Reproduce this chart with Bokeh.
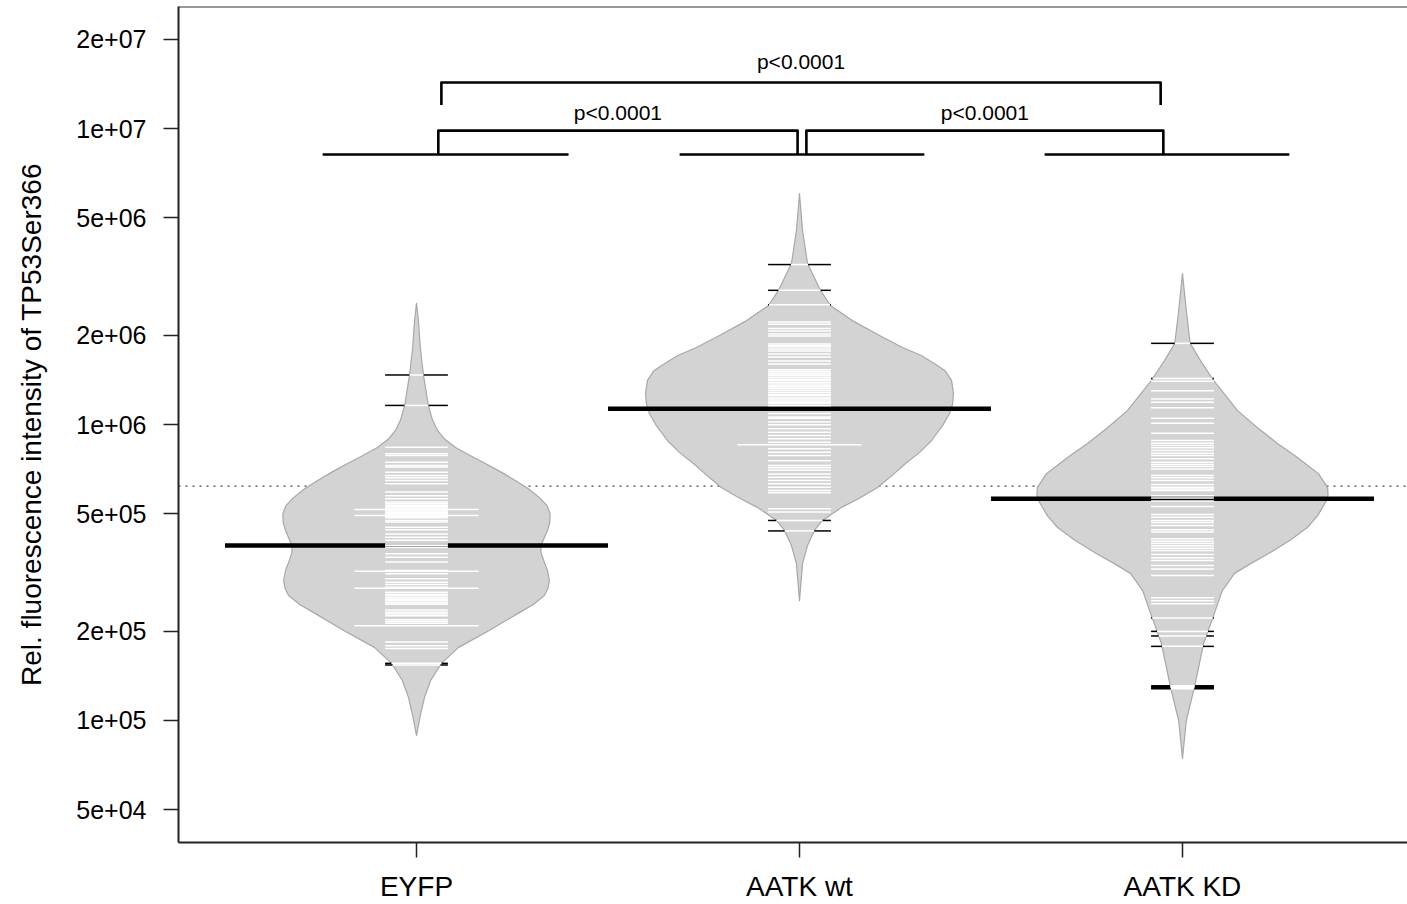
import numpy as np
from bokeh.plotting import figure
from bokeh.models import FixedTicker, Span
from bokeh.core.properties import value
from bokeh.embed import file_html
from bokeh.resources import INLINE

# ---------------- data ----------------
groups = ["EYFP", "AATK wt", "AATK KD"]
group_pos = [1, 2, 3]

# one bean line per observation
eyfp_obs = [1.47e6, 1.16e6, 8.38e5, 7.96e5, 7.85e5, 7.46e5, 7.27e5, 7.18e5, 6.90e5, 6.73e5,
            6.61e5, 6.47e5, 6.31e5, 5.91e5, 5.75e5, 5.61e5, 5.47e5, 5.40e5, 5.34e5, 5.28e5,
            5.22e5, 5.16e5, 5.10e5, 5.05e5, 5.00e5, 4.95e5, 4.89e5, 4.84e5, 4.74e5, 4.68e5,
            4.50e5, 4.41e5, 4.27e5, 4.16e5, 4.06e5, 3.95e5, 3.90e5, 3.85e5, 3.66e5, 3.56e5,
            3.43e5, 3.21e5, 3.13e5, 3.01e5, 2.93e5, 2.88e5, 2.82e5, 2.71e5, 2.67e5, 2.64e5,
            2.60e5, 2.57e5, 2.54e5, 2.50e5, 2.47e5, 2.36e5, 2.32e5, 2.29e5, 2.26e5, 2.19e5,
            2.16e5, 2.13e5, 1.84e5, 1.79e5, 1.75e5, 1.56e5, 1.54e5]
aatk_wt_obs = [3.47e6, 2.84e6, 2.54e6, 2.22e6, 2.18e6, 2.11e6, 2.07e6, 2.02e6, 1.99e6, 1.87e6,
               1.85e6, 1.83e6, 1.80e6, 1.77e6, 1.73e6, 1.69e6, 1.64e6, 1.60e6, 1.53e6, 1.51e6,
               1.49e6, 1.47e6, 1.46e6, 1.44e6, 1.42e6, 1.41e6, 1.39e6, 1.38e6, 1.36e6, 1.35e6,
               1.34e6, 1.32e6, 1.30e6, 1.28e6, 1.26e6, 1.25e6, 1.23e6, 1.22e6, 1.20e6, 1.19e6,
               1.18e6, 1.16e6, 1.09e6, 1.06e6, 1.05e6, 1.02e6, 9.98e5, 9.67e5, 9.42e5, 9.18e5,
               8.95e5, 8.71e5, 8.28e5, 8.06e5, 7.85e5, 7.55e5, 7.27e5, 7.14e5, 7.00e5, 6.81e5,
               6.64e5, 6.47e5, 6.31e5, 6.14e5, 5.99e5, 5.88e5, 5.19e5, 5.06e5, 4.74e5, 4.37e5]
aatk_kd_obs = [1.88e6, 1.43e6, 1.40e6, 1.30e6, 1.22e6, 1.19e6, 1.14e6, 1.05e6, 1.01e6, 9.35e5,
               8.83e5, 8.65e5, 8.49e5, 8.34e5, 8.17e5, 8.00e5, 7.85e5, 7.66e5, 7.46e5, 7.32e5,
               7.21e5, 7.08e5, 6.73e5, 6.61e5, 6.47e5, 6.27e5, 6.14e5, 6.05e5, 5.99e5, 5.75e5,
               5.65e5, 5.51e5, 5.28e5, 4.97e5, 4.86e5, 4.74e5, 4.67e5, 4.56e5, 4.41e5, 4.33e5,
               4.11e5, 4.03e5, 3.96e5, 3.89e5, 3.82e5, 3.75e5, 3.64e5, 3.55e5, 3.47e5, 3.34e5,
               3.25e5, 3.09e5, 2.60e5, 2.54e5, 2.48e5, 2.22e5, 2.00e5, 1.93e5, 1.78e5, 1.31e5,
               1.30e5, 1.29e5, 1.28e5]

# tied observations (drawn as longer lines)
eyfp_ties = [5.16e5, 4.93e5, 3.19e5, 2.80e5, 2.09e5]
aatk_wt_ties = [8.55e5]
aatk_kd_ties = []

# bean averages (geometric) and overall average
bean_means = [3.90e5, 1.13e6, 5.61e5]
overall_mean = 6.19e5

# bean outlines: log10 level and half-width of the density
eyfp_dens_level = [4.949, 5.017, 5.078, 5.135, 5.193, 5.247, 5.304, 5.361, 5.392, 5.422,
                   5.446, 5.473, 5.507, 5.541, 5.568, 5.591, 5.615, 5.642, 5.669, 5.699,
                   5.726, 5.753, 5.782, 5.811, 5.840, 5.868, 5.895, 5.922, 5.950, 5.980,
                   6.014, 6.064, 6.169, 6.260, 6.351, 6.409]
eyfp_dens_width = [0.0, 0.010, 0.021, 0.037, 0.065, 0.110, 0.190, 0.264, 0.305, 0.334,
                   0.343, 0.347, 0.342, 0.332, 0.325, 0.325, 0.333, 0.342, 0.348, 0.349,
                   0.341, 0.321, 0.293, 0.258, 0.220, 0.180, 0.140, 0.102, 0.074, 0.055,
                   0.042, 0.031, 0.018, 0.010, 0.005, 0.0]
aatk_wt_dens_level = [5.405, 5.530, 5.591, 5.642, 5.676, 5.720, 5.750, 5.787, 5.828, 5.868,
                      5.905, 5.946, 5.997, 6.037, 6.071, 6.105, 6.149, 6.182, 6.199, 6.233,
                      6.260, 6.301, 6.351, 6.402, 6.453, 6.544, 6.655, 6.780]
aatk_wt_dens_width = [0.0, 0.008, 0.021, 0.039, 0.060, 0.110, 0.155, 0.204, 0.242, 0.277,
                      0.313, 0.345, 0.374, 0.392, 0.400, 0.402, 0.397, 0.380, 0.360, 0.318,
                      0.269, 0.209, 0.138, 0.081, 0.055, 0.021, 0.008, 0.0]
aatk_kd_dens_level = [4.872, 5.000, 5.111, 5.260, 5.372, 5.439, 5.497, 5.530, 5.564, 5.608,
                      5.652, 5.692, 5.743, 5.760, 5.787, 5.834, 5.855, 5.895, 5.936, 5.990,
                      6.047, 6.149, 6.216, 6.274, 6.385, 6.510]
aatk_kd_dens_width = [0.0, 0.010, 0.031, 0.055, 0.086, 0.104, 0.136, 0.178, 0.225, 0.280,
                      0.326, 0.353, 0.376, 0.380, 0.379, 0.355, 0.334, 0.293, 0.248, 0.195,
                      0.144, 0.081, 0.047, 0.020, 0.010, 0.0]

y_ticks = [5e4, 1e5, 2e5, 5e5, 1e6, 2e6, 5e6, 1e7, 2e7]
y_tick_labels = ["5e+04", "1e+05", "2e+05", "5e+05", "1e+06", "2e+06", "5e+06", "1e+07", "2e+07"]

p_labels = ["p<0.0001", "p<0.0001", "p<0.0001"]

# ---------------- layout ----------------
Y_LO, Y_HI = 10 ** 4.5878, 10 ** 7.4122
X_LO, X_HI = 0.3786, 3.5875
LINE_HALF = 0.082     # half length of a bean line
TIE_HALF = 0.162      # half length of a tied bean line
AVG_HALF = 0.5        # half length of the bean average line

# significance brackets (x extents and y levels)
bar_y = 8.17e6
bar_spans = [(0.755, 1.397), (1.687, 2.326), (2.640, 3.279)]
bracket_x = [(1.057, 1.995), (2.018, 2.950), (1.065, 2.943)]
bracket_y = [(8.17e6, 9.84e6), (8.17e6, 9.84e6), (1.20e7, 1.43e7)]
label_y = [1.137e7, 1.137e7, 1.68e7]

FONT = "Liberation Sans"

p = figure(width=1407, height=904, x_range=(X_LO, X_HI), y_range=(Y_LO, Y_HI),
           y_axis_type="log", output_backend="svg", toolbar_location=None,
           min_border_left=178, min_border_right=0, min_border_top=6, min_border_bottom=62)
p.background_fill_color = "white"
p.border_fill_color = "white"
p.outline_line_color = None
p.grid.visible = False

# top edge of the box
p.add_layout(Span(location=Y_HI, dimension="width", line_color="#333333", line_width=2))

# overall average
p.add_layout(Span(location=overall_mean, dimension="width", line_color="#444444",
                  line_dash="2 5", line_width=1.4, level="underlay"))

obs_sets = [eyfp_obs, aatk_wt_obs, aatk_kd_obs]
tie_sets = [eyfp_ties, aatk_wt_ties, aatk_kd_ties]
dens_levels = [eyfp_dens_level, aatk_wt_dens_level, aatk_kd_dens_level]
dens_widths = [eyfp_dens_width, aatk_wt_dens_width, aatk_kd_dens_width]

white = dict(x0=[], x1=[], y=[])
black = dict(x0=[], x1=[], y=[])

for c, obs, ties, lv, wd, m in zip(group_pos, obs_sets, tie_sets, dens_levels, dens_widths, bean_means):
    lv = np.array(lv)
    wd = np.array(wd)
    xs = np.concatenate([c - wd, (c + wd)[::-1]])
    ys = 10 ** np.concatenate([lv, lv[::-1]])
    p.patch(xs, ys, fill_color="#D3D3D3", line_color="#A8A8A8", line_width=1.2,
            line_join="round")
    p.segment(x0=[c - AVG_HALF], x1=[c + AVG_HALF], y0=[m], y1=[m],
              line_color="black", line_width=4.5)
    for vals, half in ((obs, LINE_HALF), (ties, TIE_HALF)):
        for v in vals:
            h = float(np.interp(np.log10(v), lv, wd))
            inner = min(h, half)
            white["x0"].append(c - inner)
            white["x1"].append(c + inner)
            white["y"].append(v)
            if half > h:
                black["x0"] += [c - half, c + h]
                black["x1"] += [c - h, c + half]
                black["y"] += [v, v]

p.segment(x0=black["x0"], x1=black["x1"], y0=black["y"], y1=black["y"],
          line_color="black", line_width=1.5)
p.segment(x0=white["x0"], x1=white["x1"], y0=white["y"], y1=white["y"],
          line_color="white", line_width=1.5)

# significance brackets
p.segment(x0=[s[0] for s in bar_spans], x1=[s[1] for s in bar_spans],
          y0=[bar_y] * 3, y1=[bar_y] * 3, line_color="black", line_width=2.6)
p.multi_line(xs=[[a, a, b, b] for a, b in bracket_x],
             ys=[[lo, hi, hi, lo] for lo, hi in bracket_y],
             line_color="black", line_width=2.6, line_join="round")
p.text(x=[(a + b) / 2 for a, b in bracket_x], y=label_y, text=p_labels,
       text_font=value(FONT), text_font_size=value("21px"), text_color="black",
       text_align="center", text_baseline="middle")

# axes
p.yaxis.ticker = FixedTicker(ticks=y_ticks)
p.yaxis.major_label_overrides = {t: s for t, s in zip(y_ticks, y_tick_labels)}
p.xaxis.ticker = FixedTicker(ticks=group_pos)
p.xaxis.major_label_overrides = {k: g for k, g in zip(group_pos, groups)}
p.yaxis.axis_label = "Rel. fluorescence intensity of TP53Ser366"

for ax in (p.xaxis[0], p.yaxis[0]):
    ax.axis_line_color = "#222222"
    ax.axis_line_width = 2
    ax.major_tick_line_color = "#222222"
    ax.major_tick_line_width = 1.5
    ax.major_tick_out = 15
    ax.major_tick_in = 0
    ax.minor_tick_line_color = None
    ax.major_label_text_font = FONT
    ax.major_label_text_color = "black"

p.yaxis.major_label_text_font_size = "25px"
p.yaxis.major_label_standoff = 17
p.yaxis.axis_label_text_font = FONT
p.yaxis.axis_label_text_font_size = "28px"
p.yaxis.axis_label_text_font_style = "normal"
p.yaxis.axis_label_text_color = "black"
p.yaxis.axis_label_standoff = 26
p.xaxis.major_label_text_font_size = "28px"
p.xaxis.major_label_standoff = 13

open("out.html", "w").write(file_html(p, INLINE))
